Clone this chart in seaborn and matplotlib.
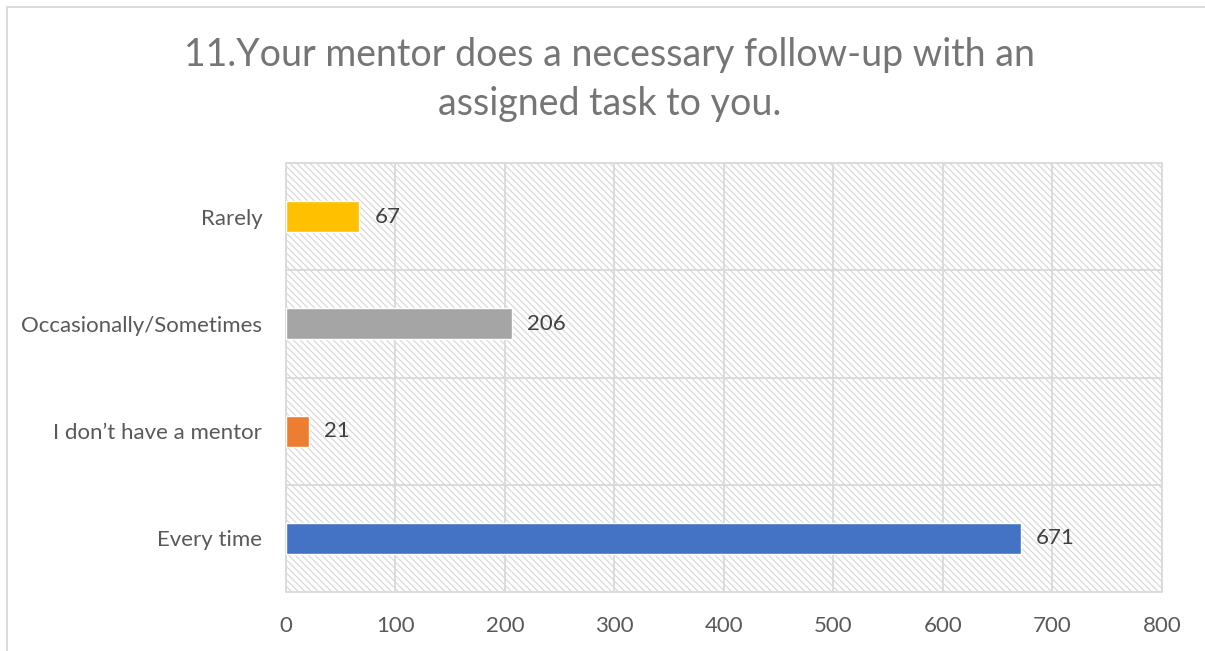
import pandas as pd
import matplotlib
matplotlib.use("Agg")
import matplotlib.pyplot as plt
import seaborn as sns

# survey answers, top to bottom as in the chart
categories = ["Rarely", "Occasionally/Sometimes", "I don\u2019t have a mentor", "Every time"]
counts = [67, 206, 21, 671]
bar_colors = ["#FFC000", "#A5A5A5", "#ED7D31", "#4472C4"]
x_ticks = [0, 100, 200, 300, 400, 500, 600, 700, 800]

df = pd.DataFrame({"answer": categories, "count": counts})

sns.set_style("white")
plt.rcParams["font.family"] = ["Lato", "DejaVu Sans"]
plt.rcParams["hatch.linewidth"] = 0.9

fig = plt.figure(figsize=(12.05, 6.51), dpi=100)
ax = fig.add_axes([0.2373, 0.0906, 0.7270, 0.6590])

# hatched plot background
ax.add_patch(plt.Rectangle((0, 0), 1, 1, transform=ax.transAxes, facecolor="white",
                           edgecolor="#d9d9d9", hatch="\\\\\\\\\\", linewidth=0, zorder=0))

sns.barplot(data=df, x="count", y="answer", hue="answer", palette=bar_colors,
            order=categories, hue_order=categories, width=0.29, legend=False,
            saturation=1, ax=ax, zorder=3)

for cont in ax.containers:
    ax.bar_label(cont, padding=11, fontsize=16, color="#404040")

ax.set_xlim(0, 800)
ax.set_ylim(3.5, -0.5)
ax.set_xticks(x_ticks)
ax.set_xticklabels([str(t) for t in x_ticks], fontsize=16, color="#595959")
ax.tick_params(axis="y", labelsize=16, labelcolor="#595959", length=0, pad=17)
ax.tick_params(axis="x", length=0, pad=17)
ax.set_yticks([0.5, 1.5, 2.5], minor=True)

ax.grid(axis="x", which="major", color="#d9d9d9", linewidth=1.3, zorder=1)
ax.grid(axis="y", which="minor", color="#d9d9d9", linewidth=1.3, zorder=1)
ax.grid(axis="y", which="major", visible=False)
ax.set_axisbelow(True)
for s in ax.spines.values():
    s.set_color("#d9d9d9")
    s.set_linewidth(1.3)

ax.set_xlabel("")
ax.set_ylabel("")

fig.text(0.506, 0.878, "11.Your mentor does a necessary follow-up with an\nassigned task to you.",
         ha="center", va="center", fontsize=27, color="#757575", linespacing=1.42)

# light frame around the chart area
fig.patches.append(plt.Rectangle((0.006, -0.02), 1.1, 1.01, transform=fig.transFigure,
                                 fill=False, edgecolor="#d9d9d9", linewidth=1.3))

fig.savefig("out.png", dpi=100)
